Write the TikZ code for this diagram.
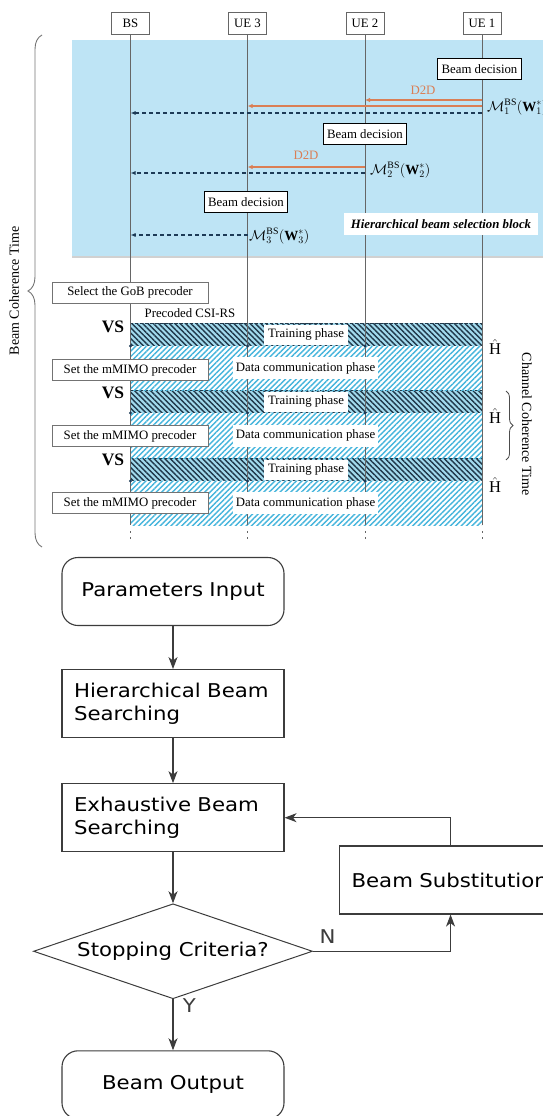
\documentclass[tikz,border=0pt]{standalone}
\usepackage{amsmath}
\usepackage{fontspec}
\setmainfont{Liberation Serif}
\newfontfamily\flowfont{DejaVu Sans}[FakeStretch=1.12]
\usetikzlibrary{arrows.meta, positioning, shapes.geometric, patterns.meta, decorations.pathreplacing}
\definecolor{blockBlue}{HTML}{BEE4F5}
\definecolor{hatchBlue}{HTML}{45B5DC}
\definecolor{hatchDark}{HTML}{20384A}
\definecolor{reportNavy}{HTML}{1D3A56}
\definecolor{dtdOrange}{HTML}{DA7E55}
\definecolor{flowGray}{HTML}{3C3C3C}
\newcommand{\seqfont}{\fontsize{12.8}{15}\selectfont}
\newcommand{\mathlabel}{\fontsize{14}{16}\selectfont}
\newcommand{\flowsize}{\flowfont\fontsize{19}{23}\selectfont}

\begin{document}
\begin{tikzpicture}[x=1pt, y=-1pt,
    entity/.style={draw=black!60, fill=white, font=\seqfont, minimum width=38pt, minimum height=22pt, inner sep=0pt},
    beamdec/.style={draw=black, line width=0.9pt, fill=white, font=\seqfont, minimum height=21pt, inner xsep=4pt, inner ysep=0pt},
    precoder/.style={draw=black!55, fill=white, font=\seqfont, minimum width=156pt, minimum height=21pt, inner sep=0pt},
    phaselabel/.style={fill=white, font=\seqfont, minimum height=20pt, inner xsep=4pt, inner ysep=0pt},
    lifeline/.style={black!60, line width=0.8pt},
    d2dmsg/.style={dtdOrange, line width=1.3pt, -{Latex[length=5pt,width=4.5pt]}},
    feedback/.style={reportNavy, line width=1.1pt, dash pattern=on 4pt off 3pt, -{Latex[length=5pt,width=4pt]}},
    trainband/.style={fill=hatchBlue!50, postaction={pattern={Lines[angle=-45,distance=3.8pt,line width=1.4pt]}, pattern color=hatchDark}},
    databand/.style={fill=white, postaction={pattern={Lines[angle=45,distance=3.8pt,line width=1.4pt]}, pattern color=hatchBlue}},
    vslabel/.style={font=\fontsize{17.5}{19}\selectfont\bfseries},
    chest/.style={font=\fontsize{16.5}{18}\selectfont},
    flowbox/.style={draw=flowGray, line width=1.1pt, fill=white, font=\flowsize, minimum width=222pt, minimum height=68pt, text width=198pt, align=left},
    flowterm/.style={flowbox, rounded corners=16pt, align=center},
    flowdec/.style={diamond, aspect=2.94, draw=flowGray, line width=1pt, font=\flowsize, minimum width=279pt, minimum height=95pt, inner sep=0pt},
    flowline/.style={flowGray, line width=1.1pt, -{Stealth[length=12pt,width=9pt,inset=3.5pt]}}
]
\useasboundingbox (0,0) rectangle (543,1116);

% lifeline heads
\node[entity] (bs) at (130.5,23) {BS};
\node[entity] (ue3) at (247.5,23) {UE 3};
\node[entity] (ue2) at (365,23) {UE 2};
\node[entity] (ue1) at (482,23) {UE 1};

% hierarchical selection block
\fill[blockBlue] (72,40) rectangle (545,257);
\draw[black!18, line width=1.5pt] (72,257) -- (545,257);

% training / data phases
\foreach \ty in {323,390,458} {
    \path[trainband] (130,\ty) rectangle (482,\ty+23);
    \draw[hatchDark, line width=0.8pt, dash pattern=on 3pt off 2pt] (130,\ty) -- (482,\ty);
}
\foreach \dy/\dh in {346/44,413/45,481/44}
    \path[databand] (130,\dy) rectangle (482,\dy+\dh);

% lifelines
\coordinate (seqend) at (0,525);
\coordinate (seqtail) at (0,543);
\foreach \ue in {bs,ue3,ue2,ue1} {
    \draw[lifeline] (\ue.south) -- (\ue |- seqend);
    \draw[lifeline, dash pattern=on 1.5pt off 4.5pt] (\ue |- seqend) ++(0,6) -- (\ue |- seqtail);
}
\foreach \yb in {346,413,481}
    \foreach \ue in {bs,ue3,ue2}
        \fill[reportNavy] (\ue |- 0,\yb) circle (1.6pt);

% beam decisions and reports
\coordinate (rowA) at (0,100);
\coordinate (rowB) at (0,106);
\coordinate (rowC) at (0,113);
\coordinate (rowD) at (0,167);
\coordinate (rowE) at (0,173);
\coordinate (rowF) at (0,235);

\node[beamdec] (dec1) at (479.5,69) {Beam decision};
\node[font=\seqfont, text=dtdOrange] (d2d1) at (423,90) {D2D};
\draw[d2dmsg] (ue1 |- rowA) -- (ue2 |- rowA);
\draw[d2dmsg] (ue1 |- rowB) -- (ue3 |- rowB);
\draw[feedback] (ue1 |- rowC) -- (bs |- rowC);
\node[font=\mathlabel, anchor=west, inner sep=1pt] (fb1) at (486,107) {$\mathcal{M}_1^{\mathrm{BS}}(\mathbf{W}_1^*)$};

\node[beamdec] (dec2) at (365,134) {Beam decision};
\node[font=\seqfont, text=dtdOrange] (d2d2) at (306,155) {D2D};
\draw[d2dmsg] (ue2 |- rowD) -- (ue3 |- rowD);
\draw[feedback] (ue2 |- rowE) -- (bs |- rowE);
\node[font=\mathlabel, anchor=west, inner sep=1pt] (fb2) at (369,170) {$\mathcal{M}_2^{\mathrm{BS}}(\mathbf{W}_2^*)$};

\node[beamdec] (dec3) at (246,202) {Beam decision};
\draw[feedback] (ue3 |- rowF) -- (bs |- rowF);
\node[font=\mathlabel, anchor=west, inner sep=1pt] (fb3) at (248,236) {$\mathcal{M}_3^{\mathrm{BS}}(\mathbf{W}_3^*)$};

\node[fill=white, font=\seqfont\bfseries\itshape, minimum height=22pt, inner xsep=7pt] (hbs) at (441,224) {Hierarchical beam selection block};

% precoding and phases
\node[precoder] (gob) at (130,292.5) {Select the GoB precoder};
\node[font=\seqfont] (csirs) at (190,313) {Precoded CSI-RS};
\foreach \vy [count=\i] in {327,393,460}
    \node[vslabel] (vs\i) at (113,\vy) {VS};
\foreach \py [count=\i] in {370,436,503}
    \node[precoder] (mimo\i) at (130,\py) {Set the mMIMO precoder};
\foreach \ty [count=\i] in {334.5,401.5,469.5}
    \node[phaselabel] (train\i) at (306,\ty) {Training phase};
\foreach \dy [count=\i] in {368,435.5,503}
    \node[phaselabel, minimum height=22pt, inner xsep=3pt] (data\i) at (305.5,\dy) {Data communication phase};
\foreach \hy [count=\i] in {347,416,485}
    \node[chest] (hhat\i) at (495,\hy) {$\hat{\mathrm{H}}$};

% coherence times
\draw[black!55, line width=0.9pt, decorate, decoration={brace, amplitude=14pt}] (42,547) -- (42,35);
\node[rotate=90, font=\fontsize{14}{16}\selectfont] (bct) at (14,291) {Beam Coherence Time};
\draw[black!70, line width=0.8pt, decorate, decoration={brace, amplitude=7pt}] (506,391) -- (506,460);
\node[rotate=-90, font=\fontsize{14}{16}\selectfont] (cct) at (527,424) {Channel Coherence Time};

% search flow
\node[flowterm] (input) at (173,591.5) {Parameters Input};
\node[flowbox, below=43pt of input] (hier) {Hierarchical Beam\\Searching};
\node[flowbox, below=45pt of hier] (exh) {Exhaustive Beam\\Searching};
\node[flowdec, below=51pt of exh] (stop) {Stopping Criteria?};
\node[flowterm, below=51pt of stop] (output) {Beam Output};
\node[flowbox, anchor=west] (subst) at (339,880) {Beam Substitution};

\draw[flowline] (input) -- (hier);
\draw[flowline] (hier) -- (exh);
\draw[flowline] (exh) -- (stop);
\draw[flowline] (stop) -- node[pos=0.12, anchor=west, xshift=6pt, font=\flowsize] {Y} (output);
\draw[flowline] (stop.east) -- node[pos=0.1, anchor=south west, inner xsep=3pt, inner ysep=7pt, font=\flowsize] {N} ++(30,0) -| (subst.south);
\draw[flowline] (subst.north) |- (exh.east);
\end{tikzpicture}
\end{document}
